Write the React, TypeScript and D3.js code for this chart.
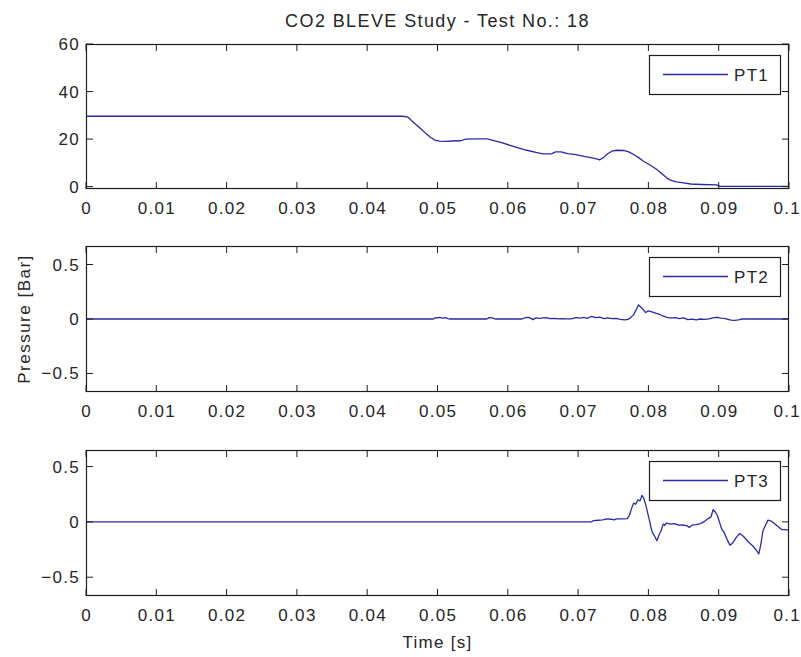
import React from "react";
import * as d3 from "d3";

// Time axis ticks shared by all three panels
const timeTicks = [0, 0.01, 0.02, 0.03, 0.04, 0.05, 0.06, 0.07, 0.08, 0.09, 0.1];

// PT1 pressure [bar] vs time [s]
const pt1: [number, number][] = [
  [0, 29.6], [0.0451, 29.6], [0.0458, 29.2], [0.0466, 27.0], [0.0475, 24.7], [0.0483, 22.5],
  [0.049, 20.8], [0.0496, 19.6], [0.0503, 19.1], [0.0511, 19.0], [0.052, 19.2], [0.0533, 19.3],
  [0.054, 20.0], [0.0555, 20.1], [0.0571, 20.1], [0.058, 19.4], [0.059, 18.6], [0.0603, 17.4],
  [0.0615, 16.3], [0.0627, 15.3], [0.064, 14.4], [0.065, 13.8], [0.0662, 13.8], [0.0668, 14.6],
  [0.0676, 14.6], [0.0685, 13.9], [0.0697, 13.5], [0.071, 12.6], [0.0722, 12.0], [0.0731, 11.3],
  [0.0736, 12.2], [0.0742, 13.8], [0.0748, 14.9], [0.0755, 15.3], [0.0765, 15.2], [0.0772, 14.6],
  [0.0779, 13.5], [0.0786, 12.2], [0.0793, 10.7], [0.0803, 9.0], [0.0812, 7.2], [0.082, 5.2],
  [0.0826, 3.7], [0.0832, 2.6], [0.084, 2.0], [0.085, 1.6], [0.086, 1.1], [0.0875, 0.9],
  [0.0897, 0.7], [0.0902, 0.1], [0.1, 0.1],
];

// PT2 pressure [bar] vs time [s]
const pt2: [number, number][] = [
  [0, 0], [0.0494, 0], [0.0497, 0.012], [0.05, 0.01], [0.0503, 0.015], [0.0507, 0.008],
  [0.0511, 0.013], [0.0515, 0.004], [0.0518, 0], [0.057, 0], [0.0573, 0.012], [0.0578, 0.01],
  [0.0582, 0], [0.062, 0], [0.0625, 0.012], [0.063, 0.015], [0.0636, -0.006], [0.064, 0.01],
  [0.0645, 0.006], [0.065, 0.01], [0.0655, 0.013], [0.066, 0.003], [0.0666, 0.005], [0.0672, 0.002],
  [0.0678, 0.004], [0.0684, 0.001], [0.069, 0.002], [0.0697, 0.012], [0.0703, 0.008], [0.0708, 0.014],
  [0.0713, 0.006], [0.0719, 0.025], [0.0725, 0.012], [0.0731, 0.018], [0.0737, 0.004], [0.0742, 0.01],
  [0.0748, 0.003], [0.0754, 0.006], [0.076, -0.004], [0.0766, -0.008], [0.0771, -0.004], [0.0775, 0.015],
  [0.0779, 0.04], [0.0783, 0.09], [0.0786, 0.13], [0.0789, 0.11], [0.0792, 0.09], [0.0796, 0.06],
  [0.08, 0.075], [0.0805, 0.065], [0.081, 0.055], [0.0815, 0.045], [0.082, 0.03], [0.0826, 0.015],
  [0.0832, 0.008], [0.0838, 0.012], [0.0844, 0.004], [0.085, 0.01], [0.0856, -0.006], [0.0862, -0.002],
  [0.0868, -0.008], [0.0874, 0], [0.088, -0.004], [0.0886, 0.002], [0.0892, 0.01], [0.0898, 0.016],
  [0.0903, 0.008], [0.0908, 0.006], [0.0913, -0.004], [0.0918, -0.01], [0.0923, -0.012], [0.0928, -0.008],
  [0.0933, 0], [0.1, 0],
];

// PT3 pressure [bar] vs time [s]
const pt3: [number, number][] = [
  [0, 0], [0.0719, 0], [0.0722, 0.012], [0.0728, 0.015], [0.0735, 0.018], [0.0741, 0.027],
  [0.0747, 0.024], [0.0751, 0.018], [0.0755, 0.028], [0.0762, 0.028], [0.077, 0.03], [0.0773, 0.06],
  [0.0776, 0.12], [0.0779, 0.17], [0.0782, 0.16], [0.0785, 0.2], [0.0788, 0.19], [0.0791, 0.24],
  [0.0793, 0.22], [0.0796, 0.16], [0.0799, 0.08], [0.0802, 0.0], [0.0804, -0.06], [0.0806, -0.1],
  [0.0809, -0.13], [0.0812, -0.17], [0.0815, -0.12], [0.0818, -0.08], [0.0821, -0.02], [0.0823, -0.03],
  [0.0826, -0.01], [0.0831, -0.02], [0.0837, -0.015], [0.0843, -0.03], [0.0849, -0.028], [0.0855, -0.035],
  [0.0858, -0.05], [0.0862, -0.03], [0.0868, -0.025], [0.0874, -0.015], [0.088, 0.005], [0.0885, 0.03],
  [0.0889, 0.045], [0.0892, 0.11], [0.0895, 0.09], [0.0898, 0.06], [0.0901, 0.0], [0.0904, -0.06],
  [0.0908, -0.1], [0.0912, -0.16], [0.0916, -0.21], [0.092, -0.19], [0.0925, -0.14], [0.093, -0.105],
  [0.0935, -0.13], [0.0942, -0.18], [0.0949, -0.22], [0.0954, -0.26], [0.0957, -0.29], [0.096, -0.2],
  [0.0963, -0.08], [0.0966, -0.04], [0.097, 0.015], [0.0974, 0.01], [0.098, -0.02], [0.0986, -0.05],
  [0.099, -0.07], [0.0995, -0.07], [0.1, -0.075],
];

const pt1Ticks = [0, 20, 40, 60];
const pt23Ticks = [-0.5, 0, 0.5];
const seriesNames = ["PT1", "PT2", "PT3"];

const W = 801;
const H = 657;
const LEFT = 86;
const RIGHT = 789;
const FONT = "'Liberation Sans', Arial, sans-serif";
const TEXT = "#262626";
const AXIS = "#1e1e1e";
const LINE = "#2a2aa8";
const TICK_LEN = 7;

type Panel = {
  name: string;
  data: [number, number][];
  top: number;
  height: number;
  domain: [number, number];
  ticks: number[];
};

const panels: Panel[] = [
  { name: seriesNames[0], data: pt1, top: 44, height: 145, domain: [-1, 60], ticks: pt1Ticks },
  { name: seriesNames[1], data: pt2, top: 246, height: 146, domain: [-0.67, 0.67], ticks: pt23Ticks },
  { name: seriesNames[2], data: pt3, top: 450, height: 146, domain: [-0.67, 0.65], ticks: pt23Ticks },
];

const x = d3.scaleLinear().domain([0, 0.1]).range([LEFT, RIGHT]);

function Axes({ p }: { p: Panel }) {
  const y = d3.scaleLinear().domain(p.domain).range([p.top + p.height, p.top]);
  const bottom = p.top + p.height;
  const line = d3
    .line<[number, number]>()
    .x((d) => x(d[0]))
    .y((d) => y(d[1]));
  const lgW = 131;
  const lgH = 39;
  const lgX = RIGHT - 9 - lgW;
  const lgY = p.top + 11;
  return (
    <g>
      <rect x={LEFT} y={p.top} width={RIGHT - LEFT} height={p.height} fill="#fff" />
      <path d={line(p.data) || ""} fill="none" stroke={LINE} strokeWidth={1.3} strokeLinejoin="round" />
      {/* x ticks, mirrored on the top edge */}
      {timeTicks.map((t, i) => {
        const last = i === timeTicks.length - 1;
        return (
          <g key={"x" + t}>
            <line x1={x(t)} x2={x(t)} y1={bottom} y2={bottom - TICK_LEN} stroke={AXIS} />
            <line x1={x(t)} x2={x(t)} y1={p.top} y2={p.top + TICK_LEN} stroke={AXIS} />
            <text
              x={last ? W : x(t) + 0.6}
              y={bottom + 25}
              textAnchor={last ? "end" : "middle"}
              fontFamily={FONT}
              fontSize={17}
              letterSpacing={1.3}
              fill={TEXT}
            >
              {d3.format("~g")(t)}
            </text>
          </g>
        );
      })}
      {/* y ticks, mirrored on the right edge */}
      {p.ticks.map((v) => (
        <g key={"y" + v}>
          <line x1={LEFT} x2={LEFT + TICK_LEN} y1={y(v)} y2={y(v)} stroke={AXIS} />
          <line x1={RIGHT} x2={RIGHT - TICK_LEN} y1={y(v)} y2={y(v)} stroke={AXIS} />
          <text
            x={80}
            y={y(v) + 6}
            textAnchor="end"
            fontFamily={FONT}
            fontSize={17}
            letterSpacing={1.3}
            fill={TEXT}
          >
            {d3.format("~g")(v)}
          </text>
        </g>
      ))}
      <rect
        x={LEFT + 0.5}
        y={p.top + 0.5}
        width={RIGHT - LEFT - 1}
        height={p.height - 1}
        fill="none"
        stroke={AXIS}
        strokeWidth={1.2}
      />
      {/* legend */}
      <rect x={lgX + 0.5} y={lgY + 0.5} width={lgW} height={lgH} fill="#fff" stroke={AXIS} strokeWidth={1.2} />
      <line x1={lgX + 14} x2={lgX + 79} y1={lgY + 19.5} y2={lgY + 19.5} stroke={LINE} strokeWidth={1.3} />
      <text x={lgX + 85} y={lgY + 26} fontFamily={FONT} fontSize={17} letterSpacing={1.3} fill={TEXT}>
        {p.name}
      </text>
    </g>
  );
}

export default function App() {
  return (
    <svg width={W} height={H} style={{ display: "block", position: "absolute", left: 0, top: 0, background: "#fff" }}>
      <rect width={W} height={H} fill="#fff" />
      <text
        x={(LEFT + RIGHT) / 2}
        y={27}
        textAnchor="middle"
        fontFamily={FONT}
        fontSize={18}
        letterSpacing={1.4}
        fill={TEXT}
      >
        CO2 BLEVE Study - Test No.: 18
      </text>
      {panels.map((p) => (
        <Axes key={p.name} p={p} />
      ))}
      <text
        transform={`translate(30, 319) rotate(-90)`}
        textAnchor="middle"
        fontFamily={FONT}
        fontSize={17}
        letterSpacing={1.5}
        fill={TEXT}
      >
        Pressure [Bar]
      </text>
      <text
        x={(LEFT + RIGHT) / 2}
        y={648}
        textAnchor="middle"
        fontFamily={FONT}
        fontSize={17}
        letterSpacing={1.3}
        fill={TEXT}
      >
        Time [s]
      </text>
    </svg>
  );
}
